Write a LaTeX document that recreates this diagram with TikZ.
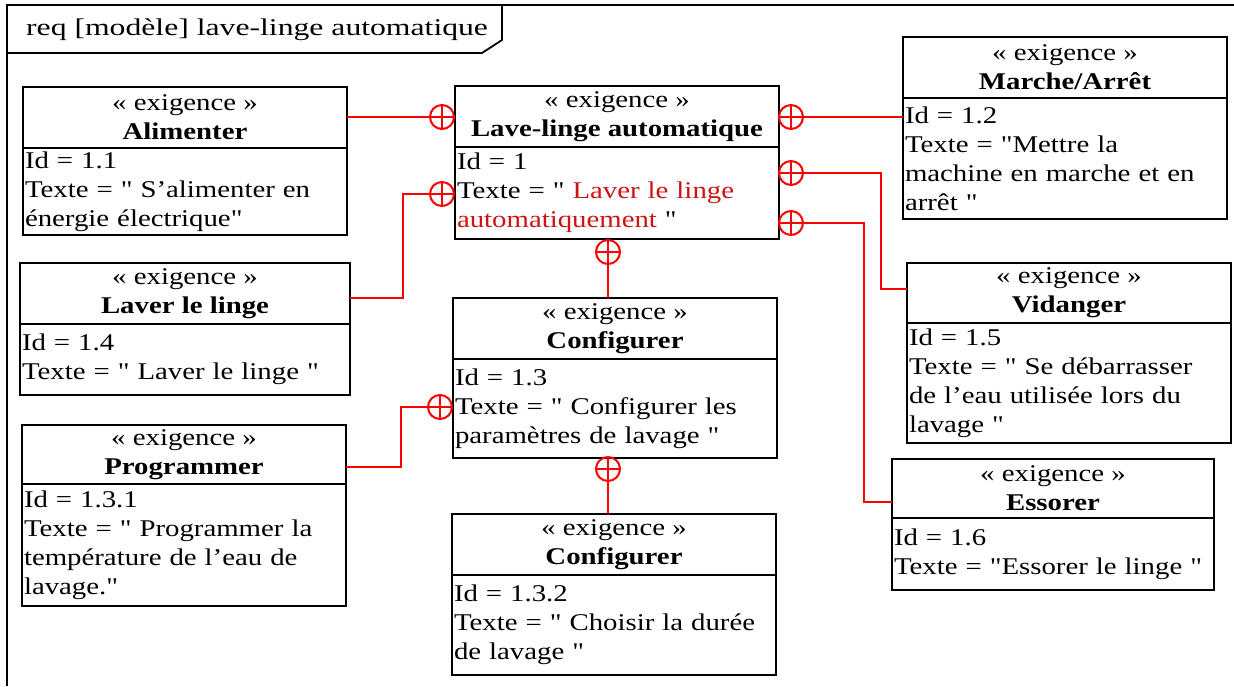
\documentclass[tikz,border=0pt]{standalone}
\usepackage{fontspec}
\setmainfont{Liberation Serif}[FakeStretch=1.2,Ligatures=TeXOff]
\newfontfamily\titrefont{Liberation Serif}[FakeStretch=1.32]
\definecolor{LienClr}{rgb}{1,0,0}
\definecolor{RougeClr}{rgb}{0.8,0.08,0.08}
\tikzset{
  entete/.style={draw,line width=2.4pt,outer sep=0pt,inner sep=0pt,anchor=north west,
    minimum width=324pt,minimum height=61pt,align=center,font=\fontsize{24}{29}\selectfont},
  corps/.style={draw,line width=2.4pt,outer sep=0pt,inner xsep=2pt,inner ysep=0pt,anchor=north west,
    text width=320pt,align=left,font=\fontsize{24}{29}\selectfont},
  plusrond/.style={circle,draw=LienClr,line width=2pt,minimum size=24pt,inner sep=0pt,outer sep=0pt,
    path picture={\draw[LienClr,line width=2pt] (path picture bounding box.north) -- (path picture bounding box.south)
      (path picture bounding box.west) -- (path picture bounding box.east);}},
  lien/.style={LienClr,line width=2pt},
  cadre/.style={black,line width=1.8pt}
}
\begin{document}
\begin{tikzpicture}[x=1pt,y=-1pt]
\useasboundingbox (0,0) rectangle (1234,686);

% cadre du diagramme
\draw[cadre] (7,686) -- (7,5) -- (1234,5);
\draw[cadre] (7,53) -- (482,53) -- (502,40) -- (502,5);
\node[anchor=west,inner sep=0pt,font=\titrefont\fontsize{24}{29}\selectfont] (titre) at (26,30) {req [modèle] lave-linge automatique};

% exigences
\node[entete] (lave) at (455,86) {«~exigence~»\\\textbf{Lave-linge automatique}};
\node[corps,minimum height=92pt] (laveT) at (lave.south west) {Id = 1\\Texte = " {\color{RougeClr}Laver le linge}\\{\color{RougeClr}automatiquement} "};

\node[entete] (ali) at (23,87) {«~exigence~»\\\textbf{Alimenter}};
\node[corps,minimum height=87pt] (aliT) at (ali.south west) {Id = 1.1\\Texte = " S’alimenter en\\énergie électrique"};

\node[entete,minimum width=330pt] (lav) at (20,263) {«~exigence~»\\\textbf{Laver le linge}};
\node[corps,text width=326pt,minimum height=71pt] (lavT) at (lav.south west) {Id = 1.4\\Texte = " Laver le linge "};

\node[entete,minimum height=59pt] (prog) at (22,425) {«~exigence~»\\\textbf{Programmer}};
\node[corps,minimum height=122pt] (progT) at (prog.south west) {Id = 1.3.1\\Texte = " Programmer la\\température de l’eau de\\lavage."};

\node[entete] (cfg) at (453,298) {«~exigence~»\\\textbf{Configurer}};
\node[corps,minimum height=99pt] (cfgT) at (cfg.south west) {Id = 1.3\\Texte = " Configurer les\\paramètres de lavage "};

\node[entete] (dur) at (452,514) {«~exigence~»\\\textbf{Configurer}};
\node[corps,minimum height=100pt] (durT) at (dur.south west) {Id = 1.3.2\\Texte = " Choisir la durée\\de lavage "};

\node[entete] (mar) at (903,37) {«~exigence~»\\\textbf{Marche/Arrêt}};
\node[corps,minimum height=121pt] (marT) at (mar.south west) {Id = 1.2\\Texte = "Mettre la\\machine en marche et en\\arrêt "};

\node[entete,minimum height=60pt] (vid) at (907,263) {«~exigence~»\\\textbf{Vidanger}};
\node[corps,minimum height=120pt] (vidT) at (vid.south west) {Id = 1.5\\Texte = " Se débarrasser\\de l’eau utilisée lors du\\lavage "};

\node[entete,minimum width=322pt,minimum height=59pt] (ess) at (892,459) {«~exigence~»\\\textbf{Essorer}};
\node[corps,text width=318pt,minimum height=72pt] (essT) at (ess.south west) {Id = 1.6\\Texte = "Essorer le linge "};

% symboles de contenance
\node[plusrond] (cA) at (442,117) {};
\node[plusrond] (cL) at (442,194) {};
\node[plusrond] (cM) at (791,117) {};
\node[plusrond] (cV) at (791,173) {};
\node[plusrond] (cE) at (791,223) {};
\node[plusrond] (cC) at (608,252) {};
\node[plusrond] (cP) at (440,407) {};
\node[plusrond] (cD) at (608,469) {};

% liens
\draw[lien] (ali.east |- cA) -- (cA);
\draw[lien] ([yshift=-4pt]lav.east) -- ++(53,0) |- (cL);
\draw[lien] ([yshift=-12pt]prog.east) -- ++(55,0) |- (cP);
\draw[lien] (cM) -- (mar.west |- cM);
\draw[lien] (cV.east) -- ++(78,0) |- ([yshift=4pt]vid.west);
\draw[lien] (cE.east) -- ++(61,0) |- ([yshift=-13pt]ess.west);
\draw[lien] (cC) -- (cfg.north -| cC);
\draw[lien] (cD) -- (dur.north -| cD);

\end{tikzpicture}
\end{document}
